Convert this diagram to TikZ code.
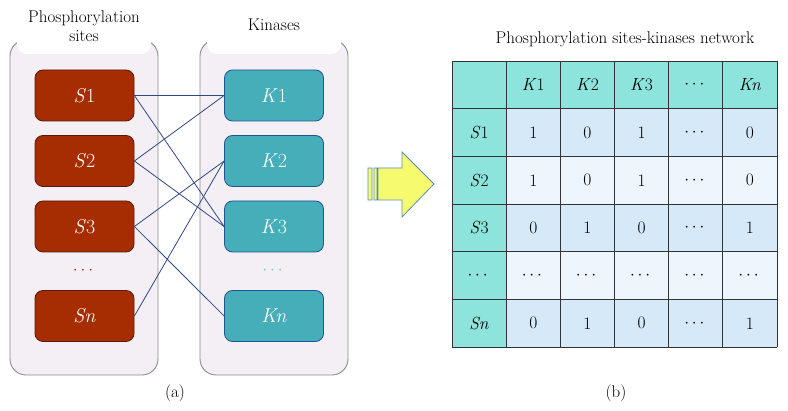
\documentclass[tikz,border=0pt]{standalone}
\usepackage{amsmath}
\definecolor{sitered}{RGB}{166,44,2}
\definecolor{siteline}{RGB}{90,25,5}
\definecolor{kinteal}{RGB}{69,174,184}
\definecolor{kinline}{RGB}{31,84,150}
\definecolor{panelfill}{RGB}{243,239,245}
\definecolor{panelgray}{RGB}{140,140,140}
\definecolor{linkblue}{RGB}{47,72,132}
\definecolor{headteal}{RGB}{140,228,220}
\definecolor{rowdark}{RGB}{214,233,249}
\definecolor{rowlight}{RGB}{237,245,253}
\definecolor{arrowyellow}{RGB}{246,250,110}
\definecolor{arrowblue}{RGB}{90,140,195}
\definecolor{kindots}{RGB}{120,200,205}

\begin{document}
\begin{tikzpicture}[x=1pt,y=-1pt,
  panel/.style={draw=panelgray, fill=panelfill, rounded corners=16pt, line width=0.9pt},
  sitebox/.style={draw=siteline, fill=sitered, rounded corners=8pt, line width=0.8pt,
    minimum width=99pt, minimum height=51pt, text=white, font=\fontsize{20}{22}\selectfont},
  kinbox/.style={sitebox, draw=kinline, fill=kinteal},
  link/.style={draw=linkblue, line width=0.8pt},
  cell/.style={font=\fontsize{17.5}{20}\selectfont},
  grid/.style={draw=black!80, line width=0.8pt},
  caption/.style={font=\fontsize{17}{19}\selectfont, align=center}]
  \useasboundingbox (0,0) rectangle (788,411);

  % (a) sites and kinases
  \draw[panel] (10,40) rectangle (158,375);
  \draw[panel] (200,40) rectangle (348,375);
  \fill[white, rounded corners=10pt] (17,0) rectangle (151,54);
  \fill[white, rounded corners=10pt] (207,0) rectangle (341,54);
  \node[caption] (sitelabel) at (84,26) {Phosphorylation\\sites};
  \node[caption] (kinlabel) at (274,25) {Kinases};

  \foreach \name/\lab/\y in {s1/{\textit{S}1}/95.5, s2/{\textit{S}2}/161, s3/{\textit{S}3}/226.5, sn/{\textit{Sn}}/316}
    \node[sitebox] (\name) at (84.5,\y) {\lab};
  \foreach \name/\lab/\y in {k1/{\textit{K}1}/95.5, k2/{\textit{K}2}/161, k3/{\textit{K}3}/226.5, kn/{\textit{Kn}}/316}
    \node[kinbox] (\name) at (274,\y) {\lab};
  \node[text=sitered, font=\fontsize{18}{20}\selectfont] (sdots) at (84.5,271) {$\cdots$};
  \node[text=kindots, font=\fontsize{18}{20}\selectfont] (kdots) at (274,271) {$\cdots$};

  \foreach \a/\b in {s1/k1, s1/k3, s2/k1, s2/k3, s3/k2, s3/kn, sn/k2}
    \draw[link] (\a.east) -- (\b.west);

  \node[caption] (capa) at (175,393) {(a)};

  % arrow
  \filldraw[fill=arrowyellow, draw=arrowblue, line width=0.8pt]
    (368,168) rectangle (372,200)
    (374,168) rectangle (377,200)
    (378,168) -- (402,168) -- (402,152) -- (434,184) -- (402,217) -- (402,200) -- (378,200) -- cycle;

  % (b) network matrix
  \node[caption] (tabtitle) at (625,39) {Phosphorylation sites-kinases network};
  \fill[headteal] (452,61) rectangle (777,109);
  \fill[headteal] (452,109) rectangle (506.17,347);
  \foreach \r in {1,3,5}
    \fill[rowdark] (506.17,{61+47.7*\r}) rectangle (777,{61+47.7*(\r+1)});
  \foreach \r in {2,4}
    \fill[rowlight] (506.17,{61+47.7*\r}) rectangle (777,{61+47.7*(\r+1)});
  \foreach \i in {0,...,6} {
    \draw[grid] ({452+54.17*\i},61) -- ({452+54.17*\i},347);
  }
  \foreach \j in {0,...,6} {
    \draw[grid] (452,{61+47.7*\j}) -- (777,{61+47.7*\j});
  }
  \foreach \row [count=\r from 0] in {
      {{},\textit{K}1,\textit{K}2,\textit{K}3,$\cdots$,\textit{Kn}},
      {\textit{S}1,1,0,1,$\cdots$,0},
      {\textit{S}2,1,0,1,$\cdots$,0},
      {\textit{S}3,0,1,0,$\cdots$,1},
      {$\cdots$,$\cdots$,$\cdots$,$\cdots$,$\cdots$,$\cdots$},
      {\textit{Sn},0,1,0,$\cdots$,1}} {
    \foreach \val [count=\c from 0] in \row {
      \node[cell] (c\r\c) at ({479.1+54.17*\c},{84.85+47.7*\r}) {\val};
    }
  }
  \node[caption] (capb) at (616,393) {(b)};
\end{tikzpicture}
\end{document}
